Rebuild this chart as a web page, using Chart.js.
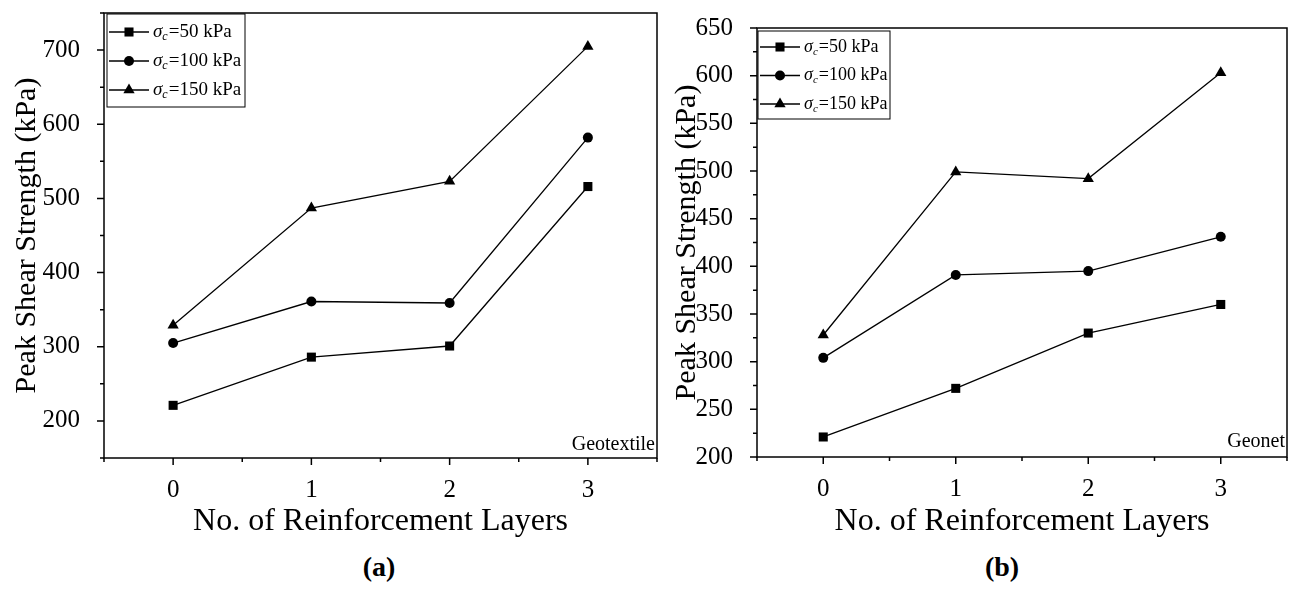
<!DOCTYPE html>
<html lang="en">
<head>
    <meta charset="UTF-8">
    <title>Peak Shear Strength</title>
    <script src="https://cdn.jsdelivr.net/npm/chart.js@4.4.1/dist/chart.umd.min.js"></script>
    <style>
        body { margin: 0; background: #fff; width: 1294px; height: 592px; position: relative; overflow: hidden;
               font-family: "Liberation Serif", "Times New Roman", serif; }
        .panel { position: absolute; top: 0; }
        .tag { position: absolute; font-weight: bold; font-size: 28px; line-height: 1; transform: translateX(-50%); }
    </style>
</head>
<body>
<canvas id="chartA" class="panel" style="left:0" width="690" height="545"></canvas>
<canvas id="chartB" class="panel" style="left:660px" width="634" height="545"></canvas>
<div class="tag" style="left:379px;top:553px">(a)</div>
<div class="tag" style="left:1002px;top:553px">(b)</div>
<script>
    const layers = [0, 1, 2, 3];
    const confining = [50, 100, 150];
    const materials = ['Geotextile', 'Geonet'];
    // peak shear strength (kPa), one array per confining pressure
    const geotextile50 = [221, 286, 301, 516];
    const geotextile100 = [305, 361, 359, 582];
    const geotextile150 = [329, 487, 523, 705];
    const geonet50 = [221, 272, 330, 360];
    const geonet100 = [304, 391, 395, 431];
    const geonet150 = [328, 499, 492, 603];

    const serif = '"Liberation Serif", "Times New Roman", serif';
    const markers = [['rect', 6.4], ['circle', 5], ['triangle', 6.5]];

    const sketch = {
        id: 'sketch',
        afterDraw(chart) {
            const opt = chart.options.plugins.sketch;
            const {ctx, chartArea: a, scales: {x, y}} = chart;
            ctx.save();
            ctx.strokeStyle = '#000';
            ctx.fillStyle = '#000';
            ctx.lineWidth = 1.5;
            ctx.strokeRect(a.left, a.top, a.right - a.left, a.bottom - a.top);
            ctx.beginPath();
            x.ticks.forEach(t => {
                const px = x.getPixelForValue(t.value);
                const len = Number.isInteger(t.value) ? 7 : 4;
                ctx.moveTo(px, a.bottom);
                ctx.lineTo(px, a.bottom + len);
            });
            y.ticks.forEach(t => {
                const py = y.getPixelForValue(t.value);
                const len = t.label !== '' ? 7 : 4;
                ctx.moveTo(a.left, py);
                ctx.lineTo(a.left - len, py);
            });
            ctx.stroke();

            // corner note
            ctx.font = '20px ' + serif;
            ctx.textAlign = 'right';
            ctx.textBaseline = 'alphabetic';
            ctx.fillText(opt.note, a.right - 2, a.bottom - opt.noteLift);

            // legend box
            const L = opt.legend;
            ctx.lineWidth = 1;
            ctx.strokeRect(L.x, L.y, L.w, L.h);
            ctx.textAlign = 'left';
            ctx.textBaseline = 'middle';
            chart.data.datasets.forEach((ds, i) => {
                const cy = L.y + L.first + i * L.row;
                ctx.lineWidth = 1.3;
                ctx.beginPath();
                ctx.moveTo(L.x + 2, cy);
                ctx.lineTo(L.x + 42, cy);
                ctx.stroke();
                Chart.helpers.drawPoint(ctx, {pointStyle: ds.pointStyle, radius: ds.pointRadius, rotation: 0, borderWidth: 0}, L.x + 22, cy);
                const [sym, rest] = ds.label.split('=');
                let tx = L.x + 46;
                ctx.font = 'italic ' + L.font + 'px ' + serif;
                ctx.fillText(sym[0], tx, cy);
                tx += ctx.measureText(sym[0]).width;
                ctx.font = 'italic ' + Math.round(L.font * 0.62) + 'px ' + serif;
                ctx.fillText(sym.slice(1), tx, cy + L.font * 0.28);
                tx += ctx.measureText(sym.slice(1)).width + 1;
                ctx.font = L.font + 'px ' + serif;
                ctx.fillText('=' + rest, tx, cy);
            });
            ctx.restore();
        }
    };

    function makeChart(id, series, cfg) {
        const ctx = document.getElementById(id).getContext('2d');
        const canvas = ctx.canvas;
        return new Chart(ctx, {
            type: 'line',
            data: {
                datasets: series.map((vals, i) => ({
                    label: 'σc=' + confining[i] + ' kPa',
                    data: vals.map((v, k) => ({x: layers[k], y: v})),
                    borderColor: '#000',
                    backgroundColor: '#000',
                    borderWidth: 1.3,
                    pointStyle: markers[i][0],
                    pointRadius: markers[i][1],
                    pointBorderWidth: 0,
                    tension: 0
                }))
            },
            options: {
                responsive: false,
                animation: false,
                layout: {padding: {top: cfg.plot.top, right: canvas.width - cfg.plot.right, left: 0, bottom: 0}},
                plugins: {
                    legend: {display: false},
                    tooltip: {enabled: false},
                    sketch: {legend: cfg.legend, note: cfg.note, noteLift: cfg.noteLift}
                },
                scales: {
                    x: {
                        type: 'linear',
                        min: -0.5, max: 3.5,
                        grid: {display: false},
                        border: {display: false},
                        afterFit: s => {
                            s.height = canvas.height - cfg.plot.bottom;
                            s.paddingLeft = 0;
                            s.paddingRight = 0;
                        },
                        ticks: {
                            stepSize: 0.5, autoSkip: false, maxRotation: 0, padding: 9,
                            color: '#000', font: {family: serif, size: 25},
                            callback: v => Number.isInteger(v) ? String(v) : ''
                        },
                        title: {
                            display: true, text: 'No. of Reinforcement Layers', color: '#000',
                            font: {family: serif, size: 32}, padding: {top: 2, bottom: 4}
                        }
                    },
                    y: {
                        min: cfg.yMin, max: cfg.yMax,
                        grid: {display: false},
                        border: {display: false},
                        afterFit: s => {
                            s.width = cfg.plot.left;
                            s.paddingTop = 0;
                            s.paddingBottom = 0;
                        },
                        ticks: {
                            stepSize: cfg.yStep, autoSkip: false, padding: 16,
                            color: '#000', font: {family: serif, size: 25},
                            callback: v => cfg.yLabel(v) ? String(v) : ''
                        },
                        title: {
                            display: true, text: 'Peak Shear Strength (kPa)', color: '#000',
                            font: {family: serif, size: 30}, padding: {top: 9, bottom: 0}
                        }
                    }
                }
            },
            plugins: [sketch]
        });
    }

    makeChart('chartA', [geotextile50, geotextile100, geotextile150], {
        plot: {left: 104, top: 13, right: 657, bottom: 458},
        yMin: 150, yMax: 750, yStep: 50,
        yLabel: v => v >= 200 && v <= 700 && v % 100 === 0,
        note: materials[0], noteLift: 8,
        legend: {x: 107, y: 14, w: 138, h: 93, first: 18, row: 29, font: 19}
    });

    makeChart('chartB', [geonet50, geonet100, geonet150], {
        plot: {left: 97, top: 28, right: 627, bottom: 457},
        yMin: 200, yMax: 650, yStep: 25,
        yLabel: v => v % 50 === 0,
        note: materials[1], noteLift: 10,
        legend: {x: 98, y: 31, w: 132, h: 88, first: 16, row: 28.5, font: 18}
    });
</script>
</body>
</html>
